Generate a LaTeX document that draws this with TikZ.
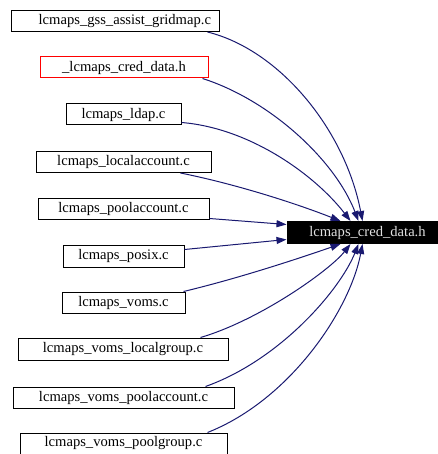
\documentclass[tikz,border=0pt]{standalone}
\usepackage{fontspec}
\setmainfont{Liberation Serif}
\usetikzlibrary{arrows.meta}
\definecolor{edgeblue}{HTML}{191970}
\tikzset{
  file/.style={draw=black, line width=1pt, inner sep=0pt, minimum height=21pt,
    font=\fontsize{14.6}{17}\selectfont},
  dep/.style={draw=edgeblue, line width=1pt, -{Triangle[length=10pt,width=7pt]}}
}
\begin{document}
\begin{tikzpicture}[x=1pt,y=-1pt]
  \useasboundingbox (0,0) rectangle (437,454);
  % included-by files
  \node[file, minimum width=208pt, inner xsep=8pt, text width=192pt, align=right] (gridmap) at (115,21) {lcmaps\_gss\_assist\_gridmap.c};
  \node[file, draw=red, minimum width=168pt] (creddatapriv) at (124,67.5) {\_lcmaps\_cred\_data.h};
  \node[file, minimum width=115pt] (ldap) at (123.5,114.5) {lcmaps\_ldap.c};
  \node[file, minimum width=175pt] (localacc) at (123.5,162) {lcmaps\_localaccount.c};
  \node[file, minimum width=171pt] (poolacc) at (123.5,208.5) {lcmaps\_poolaccount.c};
  \node[file, minimum width=121pt, minimum height=22pt] (posix) at (123.5,256) {lcmaps\_posix.c};
  \node[file, minimum width=123pt] (voms) at (123.5,302.5) {lcmaps\_voms.c};
  \node[file, minimum width=210pt, minimum height=22pt] (vomslocal) at (123,349) {lcmaps\_voms\_localgroup.c};
  \node[file, minimum width=221pt] (vomspoolacc) at (123.5,397.5) {lcmaps\_voms\_poolaccount.c};
  \node[file, minimum width=207pt] (vomspoolgrp) at (123.5,443.5) {lcmaps\_voms\_poolgroup.c};
  % the header itself
  \node[file, fill=black, text=white!88!black, minimum width=161pt, minimum height=22pt] (creddata) at (367.5,232.5) {lcmaps\_cred\_data.h};
  % upper edges
  \draw[dep] ([xshift=-12pt]gridmap.south east) .. controls (280,50) and (345,130) .. ([xshift=76pt]creddata.north west);
  \draw[dep] ([xshift=-6pt]creddatapriv.south east) .. controls (270,100) and (335,160) .. ([xshift=72pt]creddata.north west);
  \draw[dep] ([yshift=3pt]ldap.south east) .. controls (250,128) and (315,175) .. ([xshift=64pt]creddata.north west);
  \draw[dep] ([xshift=-31pt]localacc.south east) .. controls (240,185) and (300,205) .. ([xshift=54pt]creddata.north west);
  % side edges
  \draw[dep] ([yshift=1pt]poolacc.south east) -- ([yshift=8pt]creddata.west);
  \draw[dep] ([yshift=-5pt]posix.north east) -- ([yshift=-7pt]creddata.west);
  % lower edges
  \draw[dep] ([xshift=-2pt]voms.north east) .. controls (240,278) and (300,258) .. ([xshift=54pt]creddata.south west);
  \draw[dep] ([xshift=-28pt]vomslocal.north east) .. controls (260,320) and (330,270) .. ([xshift=64pt]creddata.south west);
  \draw[dep] ([xshift=-29pt]vomspoolacc.north east) .. controls (280,360) and (340,290) .. ([xshift=72pt]creddata.south west);
  \draw[dep] ([xshift=-20pt]vomspoolgrp.north east) .. controls (290,400) and (350,310) .. ([xshift=76pt]creddata.south west);
\end{tikzpicture}
\end{document}
